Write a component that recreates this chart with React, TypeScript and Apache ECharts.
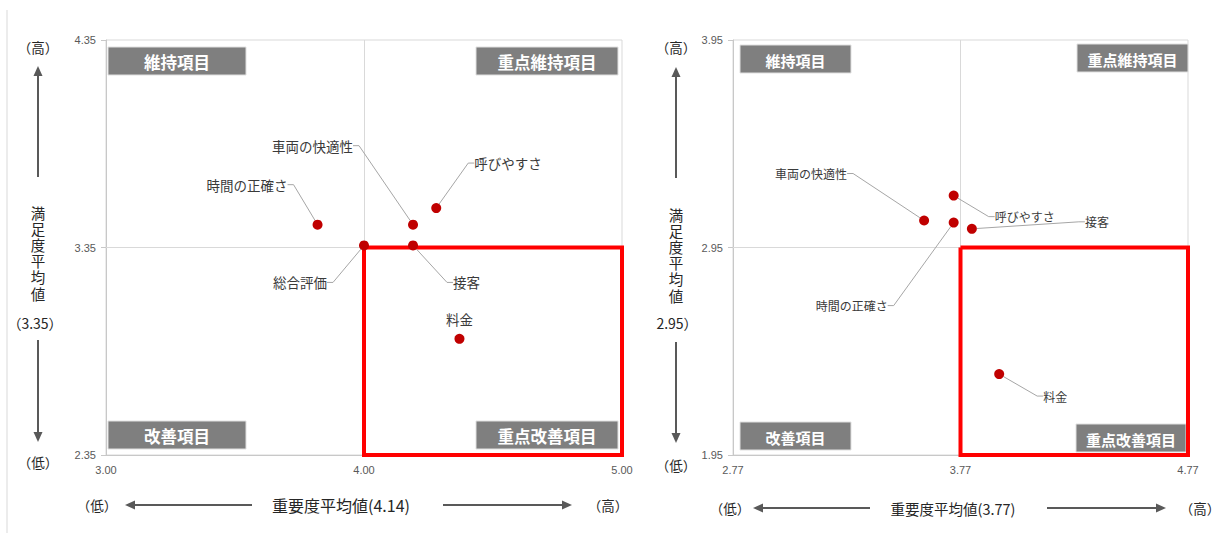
import React, { useEffect, useRef } from "react";
import * as echarts from "echarts";

// ---------- data ----------
const leftNames = ["時間の正確さ", "車両の快適性", "呼びやすさ", "総合評価", "接客", "料金"];
const leftImportance = [3.82, 4.19, 4.28, 4.0, 4.19, 4.37];
const leftSatisfaction = [3.46, 3.46, 3.54, 3.36, 3.36, 2.91];
const leftXTicks = [3.0, 4.0, 5.0];
const leftYTicks = [2.35, 3.35, 4.35];
const leftXDivider = 4.0;
const leftYDivider = 3.35;
const leftXTitle = "重要度平均値(4.14)";
const leftYMean = "（3.35）";

const rightNames = ["車両の快適性", "呼びやすさ", "時間の正確さ", "接客", "料金"];
const rightImportance = [3.61, 3.74, 3.74, 3.82, 3.94];
const rightSatisfaction = [3.08, 3.2, 3.07, 3.04, 2.34];
const rightXTicks = [2.77, 3.77, 4.77];
const rightYTicks = [1.95, 2.95, 3.95];
const rightXDivider = 3.77;
const rightYDivider = 2.95;
const rightXTitle = "重要度平均値(3.77)";
const rightYMean = "2.95）";

const quadrantNames = ["維持項目", "重点維持項目", "改善項目", "重点改善項目"];
const yTitleChars = ["満", "足", "度", "平", "均", "値"];

// label placement: [dx, dy, align] relative to point centre
const leftPlacement: Record<string, [number, number, string]> = {
  "時間の正確さ": [-30, -40, "right"],
  "車両の快適性": [-60, -79, "right"],
  "呼びやすさ": [38, -45, "left"],
  "総合評価": [-37, 37, "right"],
  "接客": [40, 37, "left"],
  "料金": [0, -20, "center"],
};
const rightPlacement: Record<string, [number, number, string]> = {
  "車両の快適性": [-77, -47, "right"],
  "呼びやすさ": [41, 21, "left"],
  "時間の正確さ": [-66, 83, "right"],
  "接客": [113, -7, "left"],
  "料金": [44, 22, "left"],
};

const FONT = "'Noto Sans CJK JP', 'Noto Sans', sans-serif";
const TICK_FONT = "'Liberation Sans Narrow', 'Liberation Sans', Arial, sans-serif";
const GRAY_BOX = "#7f7f7f";
const ARROW = "#595959";

function axisPair(gi: number, xMin: number, xMax: number, xt: number[], yMin: number, yMax: number, yt: number[]) {
  const lab = {
    fontFamily: TICK_FONT,
    fontSize: 11,
    color: "#595959",
    formatter: (v: number) => v.toFixed(2),
  };
  return {
    x: {
      gridIndex: gi,
      type: "value",
      min: xMin,
      max: xMax,
      axisLine: { show: true, onZero: false, lineStyle: { color: "#c8c8c8" } },
      axisTick: { show: false },
      axisLabel: { ...lab, customValues: xt, margin: 9 },
      splitLine: { show: false },
    },
    y: {
      gridIndex: gi,
      type: "value",
      min: yMin,
      max: yMax,
      axisLine: { show: true, onZero: false, lineStyle: { color: "#c8c8c8" } },
      axisTick: { show: true, customValues: yt, length: 5, lineStyle: { color: "#c8c8c8" } },
      axisLabel: { ...lab, customValues: yt, margin: 10 },
      splitLine: { show: false },
    },
  };
}

function scatterSeries(
  gi: number,
  names: string[],
  xs: number[],
  ys: number[],
  placement: Record<string, [number, number, string]>,
  xDiv: number,
  yDiv: number,
  fontSize: number
) {
  return {
    type: "scatter",
    xAxisIndex: gi,
    yAxisIndex: gi,
    symbolSize: 10,
    itemStyle: { color: "#c00000", opacity: 1 },
    z: 5,
    data: names.map((n, i) => ({
      name: n,
      value: [xs[i], ys[i]],
      labelLine: { show: placement[n][2] !== "center" },
    })),
    label: {
      show: true,
      position: "inside",
      formatter: "{b}",
      fontFamily: FONT,
      fontSize,
      color: "#3a3a3a",
    },
    labelLine: {
      show: true,
      length2: 6,
      minTurnAngle: 0,
      lineStyle: { color: "#a6a6a6", width: 1 },
    },
    labelLayout: (p: any) => {
      const n = names[p.dataIndex];
      const pl = placement[n];
      const cx = p.rect.x + p.rect.width / 2;
      const cy = p.rect.y + p.rect.height / 2;
      return { x: cx + pl[0], y: cy + pl[1], align: pl[2], verticalAlign: "middle" };
    },
    markLine: {
      silent: true,
      symbol: ["none", "none"],
      label: { show: false },
      lineStyle: { color: "#d9d9d9", type: "solid", width: 1 },
      data: [{ xAxis: xDiv }, { yAxis: yDiv }],
      z: 1,
    },
  };
}

function redBox(gi: number, xDiv: number, yDiv: number, xMax: number, yMin: number) {
  return {
    type: "line",
    xAxisIndex: gi,
    yAxisIndex: gi,
    clip: false,
    silent: true,
    symbol: "none",
    z: 4,
    lineStyle: { color: "#ff0000", width: 4, join: "miter" },
    data: [
      [xDiv, yDiv],
      [xMax, yDiv],
      [xMax, yMin],
      [xDiv, yMin],
      [xDiv, yDiv],
    ],
  };
}

function qBox(x: number, y: number, w: number, h: number, text: string, fs: number) {
  return {
    type: "group",
    z: 1,
    children: [
      { type: "rect", shape: { x, y, width: w, height: h }, style: { fill: GRAY_BOX, stroke: "#e0e0e0", lineWidth: 1 } },
      {
        type: "text",
        x: x + w / 2,
        y: y + h / 2 + 1,
        style: {
          text,
          fill: "#ffffff",
          font: `bold ${fs}px ${FONT}`,
          align: "center",
          verticalAlign: "middle",
        },
      },
    ],
  };
}

function txt(x: number, y: number, text: string, fs: number, align = "center", lineHeight?: number) {
  const style: any = { text, fill: "#262626", font: `${fs}px ${FONT}`, align, verticalAlign: "middle" };
  if (lineHeight) style.lineHeight = lineHeight;
  return { type: "text", x, y, style };
}

function vertTitle(x: number, y0: number) {
  return yTitleChars.map((c, i) => txt(x, y0 + i * 16.2, c, 14.5, "center", 15));
}

function vArrow(x: number, y1: number, y2: number) {
  const dir = y2 > y1 ? 1 : -1;
  const base = y2 - dir * 10;
  return [
    { type: "line", shape: { x1: x, y1, x2: x, y2: base }, style: { stroke: ARROW, lineWidth: 2 } },
    { type: "polygon", shape: { points: [[x - 4.5, base], [x + 4.5, base], [x, y2]] }, style: { fill: ARROW } },
  ];
}
function hArrow(y: number, x1: number, x2: number) {
  const dir = x2 > x1 ? 1 : -1;
  const base = x2 - dir * 10;
  return [
    { type: "line", shape: { x1, y1: y, x2: base, y2: y }, style: { stroke: ARROW, lineWidth: 2 } },
    { type: "polygon", shape: { points: [[base, y - 4.5], [base, y + 4.5], [x2, y]] }, style: { fill: ARROW } },
  ];
}

export default function App() {
  const ref = useRef<HTMLDivElement>(null);
  useEffect(() => {
    if (!ref.current) return;
    const chart = echarts.init(ref.current, undefined, { renderer: "svg" });
    const L = axisPair(0, leftXTicks[0], leftXTicks[2], leftXTicks, leftYTicks[0], leftYTicks[2], leftYTicks);
    const R = axisPair(1, rightXTicks[0], rightXTicks[2], rightXTicks, rightYTicks[0], rightYTicks[2], rightYTicks);
    const option: any = {
      animation: false,
      backgroundColor: "#ffffff",
      grid: [
        { left: 106, top: 40, width: 516, height: 415, show: true, borderColor: "#d9d9d9", borderWidth: 1 },
        { left: 733, top: 40, width: 455, height: 415, show: true, borderColor: "#d9d9d9", borderWidth: 1 },
      ],
      xAxis: [L.x, R.x],
      yAxis: [L.y, R.y],
      series: [
        redBox(0, leftXDivider, leftYDivider, leftXTicks[2], leftYTicks[0]),
        redBox(1, rightXDivider, rightYDivider, rightXTicks[2], rightYTicks[0]),
        scatterSeries(0, leftNames, leftImportance, leftSatisfaction, leftPlacement, leftXDivider, leftYDivider, 13.5),
        scatterSeries(1, rightNames, rightImportance, rightSatisfaction, rightPlacement, rightXDivider, rightYDivider, 12),
      ],
      graphic: [
        { type: "line", shape: { x1: 7, y1: 10, x2: 7, y2: 533 }, style: { stroke: "#d9d9d9", lineWidth: 1 } },
        // left quadrant boxes
        qBox(108, 47, 138, 28, quadrantNames[0], 16.5),
        qBox(476, 47, 142, 28, quadrantNames[1], 16.5),
        qBox(108, 421, 138, 28, quadrantNames[2], 16.5),
        qBox(476, 421, 142, 28, quadrantNames[3], 16.5),
        // right quadrant boxes
        qBox(740, 45, 111, 28, quadrantNames[0], 15),
        qBox(1077, 44, 111, 28, quadrantNames[1], 15),
        qBox(740, 422, 111, 28, quadrantNames[2], 15),
        qBox(1076, 424, 110, 28, quadrantNames[3], 15),
        // left y title
        txt(38, 47, "（高）", 13.5),
        ...vArrow(38, 177, 66),
        ...vertTitle(38, 212),
        txt(35, 323, leftYMean, 14),
        ...vArrow(38, 340, 442),
        txt(38, 462, "（低）", 13.5),
        // left x title
        txt(97, 505, "（低）", 13.5),
        ...hArrow(505, 252, 125),
        txt(341, 505, leftXTitle, 16),
        ...hArrow(505, 443, 572),
        txt(608, 505, "（高）", 13.5),
        // right y title
        txt(676, 47, "（高）", 13.5),
        ...vArrow(676, 178, 67),
        ...vertTitle(676, 214),
        txt(677, 323, rightYMean, 14),
        ...vArrow(676, 342, 443),
        txt(676, 465, "（低）", 13.5),
        // right x title
        txt(730, 508, "（低）", 13.5),
        ...hArrow(508, 870, 753),
        txt(953, 508, rightXTitle, 14.5),
        ...hArrow(508, 1047, 1166),
        txt(1200, 508, "（高）", 13.5),
      ],
    };
    chart.setOption(option);
    return () => chart.dispose();
  }, []);
  return (
    <div
      ref={ref}
      style={{ position: "fixed", left: 0, top: 0, width: 1220, height: 533, background: "#fff" }}
    />
  );
}
